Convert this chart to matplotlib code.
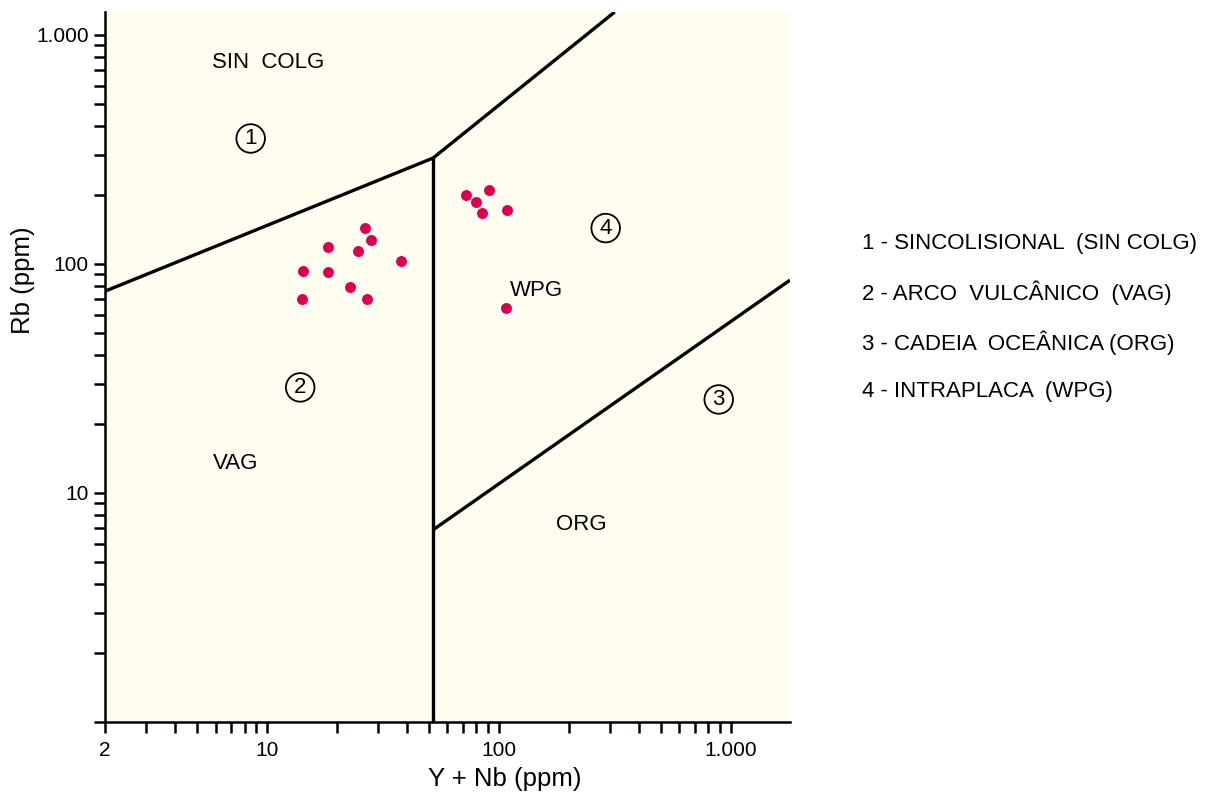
import numpy as np
import matplotlib
matplotlib.use("Agg")
import matplotlib.pyplot as plt
from matplotlib.ticker import FixedLocator, FixedFormatter, NullFormatter

plt.rcParams['font.family'] = ['Liberation Sans', 'DejaVu Sans']

# --- amostras (Y+Nb, Rb) ---------------------------------------------------
yn = [26.5, 28.0, 18.4, 24.7, 37.7, 14.3, 18.3, 22.9, 14.1, 26.9,
      72.0, 79.4, 90.4, 84.6, 108.0, 107.3]
rb = [144, 127.5, 118, 114, 103, 93, 92.6, 79.2, 70, 70,
      201, 187, 210, 167, 172, 64]

# --- limites dos campos (Pearce et al.) ------------------------------------
syn_vag_x = [2, 52]
syn_vag_y = [76, 290]
syn_wpg_x = [52, 316]
syn_wpg_y = [290, 1260]
vag_wpg_x = [52, 52]
vag_wpg_y = [1, 290]
wpg_org_x = [52, 1800]
wpg_org_y = [6.9, 85]

xmajor = [2, 10, 100, 1000]
xmajor_lbl = ["2", "10", "100", "1.000"]
ymajor = [1, 10, 100, 1000]
ymajor_lbl = ["", "10", "100", "1.000"]

legend_lines = ["1 - SINCOLISIONAL  (SIN COLG)",
                "2 - ARCO  VULCÂNICO  (VAG)",
                "3 - CADEIA  OCEÂNICA (ORG)",
                "4 - INTRAPLACA  (WPG)"]

fig = plt.figure(figsize=(12.05, 7.96), dpi=100)
ax = fig.add_axes([0.0871, 0.093, 0.5685, 0.892])
ax.set_xscale("log")
ax.set_yscale("log")
ax.set_xlim(2, 1800)
ax.set_ylim(1, 1260)
ax.set_facecolor("#FFFDF0")

lw = 2.4
for xs, ys in [(syn_vag_x, syn_vag_y), (syn_wpg_x, syn_wpg_y),
               (vag_wpg_x, vag_wpg_y), (wpg_org_x, wpg_org_y)]:
    ax.plot(xs, ys, color="black", lw=lw, solid_capstyle="butt")

ax.scatter(yn, rb, s=62, color="#DE0050", zorder=3, linewidths=0)

# rótulos dos campos
fs = 16
ax.text(10.1, 755, "SIN  COLG", ha="center", va="center", fontsize=fs)
ax.text(7.35, 13.5, "VAG", ha="center", va="center", fontsize=fs)
ax.text(145.5, 76.4, "WPG", ha="center", va="center", fontsize=fs)
ax.text(227.6, 7.26, "ORG", ha="center", va="center", fontsize=fs)
for (x, y, n) in [(8.5, 353, "1"), (13.9, 28.9, "2"), (887, 25.6, "3"), (288.7, 143.4, "4")]:
    ax.text(x, y, n, ha="center", va="center", fontsize=fs,
            bbox=dict(boxstyle="circle,pad=0.17", fc="none", ec="black", lw=1.3))

for s in ["top", "right"]:
    ax.spines[s].set_visible(False)
for s in ["left", "bottom"]:
    ax.spines[s].set_linewidth(1.8)

ax.xaxis.set_major_locator(FixedLocator(xmajor))
ax.xaxis.set_major_formatter(FixedFormatter(xmajor_lbl))
ax.yaxis.set_major_locator(FixedLocator(ymajor))
ax.yaxis.set_major_formatter(FixedFormatter(ymajor_lbl))
ax.xaxis.set_minor_formatter(NullFormatter())
ax.yaxis.set_minor_formatter(NullFormatter())
ax.tick_params(which="both", direction="out", length=8, width=1.8, labelsize=15)
ax.tick_params(axis="x", pad=6)

ax.set_xlabel("Y + Nb (ppm)", fontsize=18.5)
ax.set_ylabel("Rb (ppm)", fontsize=18.5)
ax.xaxis.set_label_coords(0.584, -0.064)
ax.yaxis.set_label_coords(-0.102, 0.6225)

for i, t in enumerate(legend_lines):
    fig.text(0.7154, 0.6935 - i * 0.0618, t, ha="left", va="center", fontsize=16)

fig.savefig("out.png", dpi=100)
